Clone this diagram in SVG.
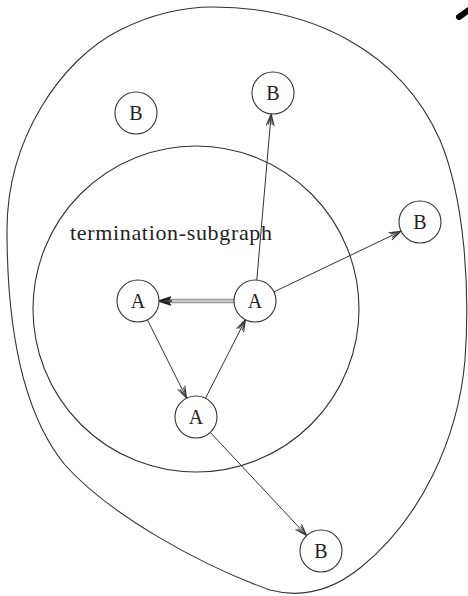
<svg xmlns="http://www.w3.org/2000/svg" width="468" height="596" viewBox="0 0 468 596">
  <defs>
    <marker id="arr" viewBox="-14 -6 16 12" refX="0" refY="0" markerWidth="16" markerHeight="12" markerUnits="userSpaceOnUse" orient="auto">
      <path d="M-12,-4 L0,0 L-12,4 M-11,-2 L0,0 L-11,2" fill="none" stroke="#333" stroke-width="1"/>
    </marker>
    <marker id="arrg" viewBox="-14 -6 16 12" refX="0" refY="0" markerWidth="16" markerHeight="12" markerUnits="userSpaceOnUse" orient="auto">
      <path d="M-12,-4 L0,0 L-12,4 M-11,-2 L0,0 L-11,2" fill="none" stroke="#222" stroke-width="1.6"/>
    </marker>
  </defs>
  <style>
    .region { fill: none; stroke: #333; stroke-width: 1.1; }
    .node circle { fill: #fff; stroke: #333; stroke-width: 1.1; }
    .node text { font-family: "Liberation Serif", serif; font-size: 20px; fill: #222; text-anchor: middle; }
    .edge { fill: none; stroke: #333; stroke-width: 1; marker-end: url(#arr); }
    .label { font-family: "Liberation Serif", serif; font-size: 22px; fill: #222; }
  </style>
  <rect width="468" height="596" fill="#fff"/>
  <g id="regions">
    <path class="region" d="M 213 7 C 310 7, 400 50, 440 140 C 465 200, 470 290, 465 360 C 458 440, 420 520, 360 568 C 330 592, 300 598, 270 590 C 200 565, 110 515, 65 465 C 20 410, 7 320, 7 230 C 7 140, 60 60, 120 30 C 150 15, 180 7, 213 7 Z"/>
    <circle class="region" cx="196" cy="309" r="163"/>
    <text class="label" x="70" y="240" textLength="202" lengthAdjust="spacing">termination-subgraph</text>
  </g>
  <g id="connectors">
    <line class="edge" x1="256.8" y1="280.1" x2="271.2" y2="113.9"/>
    <line class="edge" x1="273.9" y1="291.9" x2="401.1" y2="231.1"/>
    <line x1="234" y1="301" x2="166" y2="301" stroke="#999" stroke-width="4.5"/>
    <line x1="234" y1="301" x2="166" y2="301" stroke="#ddd" stroke-width="1.5"/>
    <line x1="172" y1="301" x2="159" y2="301" stroke="#222" stroke-width="1.5" marker-end="url(#arrg)"/>
    <line class="edge" x1="147.4" y1="319.8" x2="186.6" y2="398.2"/>
    <line class="edge" x1="205.5" y1="398.3" x2="245.5" y2="319.7"/>
    <line class="edge" x1="210.3" y1="432.4" x2="306.7" y2="535.6"/>
  </g>
  <g id="nodeB1" class="node"><circle cx="136" cy="113" r="21"/><text x="136" y="120">B</text></g>
  <g id="nodeB2" class="node"><circle cx="273" cy="93" r="21"/><text x="273" y="100">B</text></g>
  <g id="nodeB3" class="node"><circle cx="420" cy="222" r="21"/><text x="420" y="229">B</text></g>
  <g id="nodeB4" class="node"><circle cx="321" cy="551" r="21"/><text x="321" y="558">B</text></g>
  <g id="nodeA1" class="node"><circle cx="138" cy="301" r="21"/><text x="138" y="308">A</text></g>
  <g id="nodeA2" class="node"><circle cx="255" cy="301" r="21"/><text x="255" y="308">A</text></g>
  <g id="nodeA3" class="node"><circle cx="196" cy="417" r="21"/><text x="196" y="424">A</text></g>
  <path d="M 459 17 L 469 10" stroke="#000" stroke-width="6" stroke-linecap="round"/>
</svg>
